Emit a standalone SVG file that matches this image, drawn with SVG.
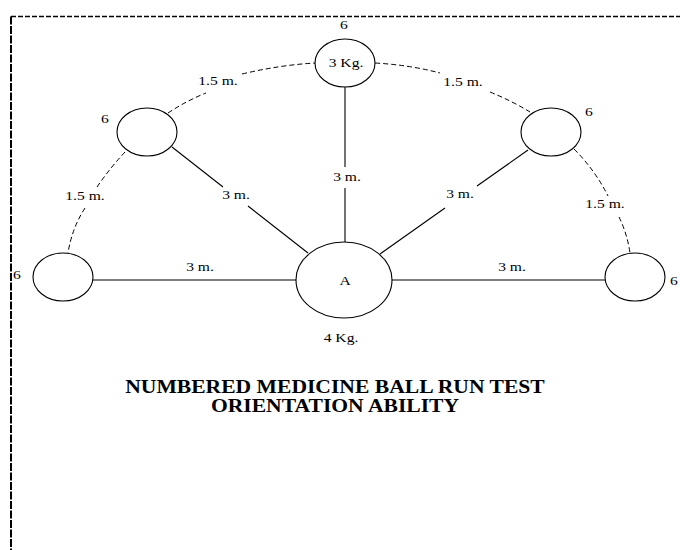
<svg xmlns="http://www.w3.org/2000/svg" width="680" height="550" viewBox="0 0 680 550">
<style>
.ball{fill:#fff;stroke:#000;stroke-width:1.1}
.solid{fill:none;stroke:#000;stroke-width:1.1}
.dash{fill:none;stroke:#000;stroke-width:1;stroke-dasharray:5 3}
.lbl{font-family:"Liberation Serif","Times New Roman",serif;font-size:13px;fill:#000;text-anchor:middle}
.title{font-family:"Liberation Serif","Times New Roman",serif;font-size:18px;font-weight:bold;fill:#000;text-anchor:middle}
</style>
<rect width="680" height="550" fill="#fff"/>
<g id="frame">
<line x1="11" y1="16.5" x2="690" y2="16.5" stroke="#000" stroke-width="1.3" stroke-dasharray="5 2"/>
<line x1="11" y1="16.5" x2="11" y2="560" stroke="#000" stroke-width="2" stroke-dasharray="8 1.5"/>
</g>
<g id="connectors">
<line class="solid" x1="93" y1="280" x2="296" y2="280"/>
<line class="solid" x1="392" y1="280" x2="605" y2="280"/>
<line class="solid" x1="345" y1="87" x2="345" y2="167"/>
<line class="solid" x1="345" y1="188" x2="345" y2="242"/>
<line class="solid" x1="172" y1="147" x2="223" y2="187"/>
<line class="solid" x1="248" y1="206" x2="308" y2="253"/>
<line class="solid" x1="528" y1="150" x2="477" y2="186"/>
<line class="solid" x1="445" y1="208" x2="380" y2="254"/>
<path class="dash" d="M168,113 Q186,101 206,93"/>
<path class="dash" d="M242,74 Q280,65 315,63"/>
<path class="dash" d="M375,63 Q410,65 440,73"/>
<path class="dash" d="M490,92 Q512,101 530,112"/>
<path class="dash" d="M125,152 Q110,168 97,187"/>
<path class="dash" d="M85,208 Q72,228 68,253"/>
<path class="dash" d="M574,149 Q595,170 608,196"/>
<path class="dash" d="M619,217 Q627,233 630,253"/>
</g>
<g id="ball-top">
<ellipse class="ball" cx="345" cy="63" rx="30" ry="24"/>
<text class="lbl" transform="matrix(1.2 0 0 1 346 67)">3 Kg.</text>
<text class="lbl" transform="matrix(1.2 0 0 1 344 28.5)">6</text>
</g>
<g id="ball-upper-left">
<ellipse class="ball" cx="147" cy="132" rx="30" ry="24"/>
<text class="lbl" transform="matrix(1.2 0 0 1 105 123)">6</text>
</g>
<g id="ball-upper-right">
<ellipse class="ball" cx="551" cy="132" rx="30" ry="24"/>
<text class="lbl" transform="matrix(1.2 0 0 1 589 116)">6</text>
</g>
<g id="ball-left">
<ellipse class="ball" cx="63" cy="277" rx="30" ry="24"/>
<text class="lbl" transform="matrix(1.2 0 0 1 17 279)">6</text>
</g>
<g id="ball-right">
<ellipse class="ball" cx="635" cy="277" rx="30" ry="24"/>
<text class="lbl" transform="matrix(1.2 0 0 1 674 285)">6</text>
</g>
<g id="ball-A">
<ellipse class="ball" cx="344" cy="280" rx="48" ry="38"/>
<text class="lbl" transform="matrix(1.2 0 0 1 345 285)">A</text>
<text class="lbl" transform="matrix(1.2 0 0 1 341 342)">4 Kg.</text>
</g>
<g id="distance-labels">
<text class="lbl" transform="matrix(1.2 0 0 1 218 85)">1.5 m.</text>
<text class="lbl" transform="matrix(1.2 0 0 1 463 86)">1.5 m.</text>
<text class="lbl" transform="matrix(1.2 0 0 1 85 200)">1.5 m.</text>
<text class="lbl" transform="matrix(1.2 0 0 1 605 208)">1.5 m.</text>
<text class="lbl" transform="matrix(1.2 0 0 1 236 199)">3 m.</text>
<text class="lbl" transform="matrix(1.2 0 0 1 347 181)">3 m.</text>
<text class="lbl" transform="matrix(1.2 0 0 1 460 198)">3 m.</text>
<text class="lbl" transform="matrix(1.2 0 0 1 200 271)">3 m.</text>
<text class="lbl" transform="matrix(1.2 0 0 1 512 271)">3 m.</text>
</g>
<g id="title">
<text class="title" transform="matrix(1.2 0 0 1 335 393)">NUMBERED MEDICINE BALL RUN TEST</text>
<text class="title" transform="matrix(1.2 0 0 1 335 412)">ORIENTATION ABILITY</text>
</g>
</svg>
